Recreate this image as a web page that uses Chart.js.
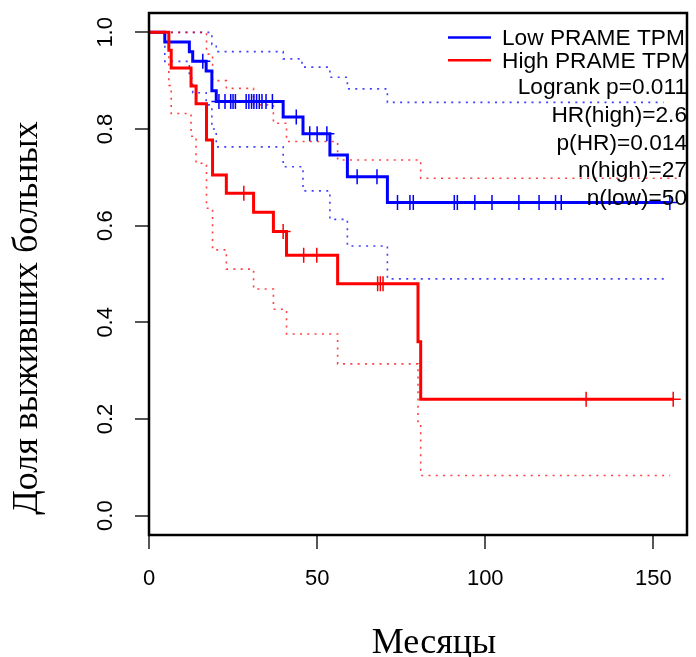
<!DOCTYPE html>
<html>
<head>
<meta charset="utf-8">
<script src="https://cdn.jsdelivr.net/npm/chart.js@4.4.0/dist/chart.umd.min.js"></script>
<style>
  html, body { margin:0; padding:0; background:#fff; }
  canvas { display:block; }
</style>
</head>
<body>
<canvas id="canvKM" width="696" height="657" style="width:696px;height:657px"></canvas>
<script>
// Kaplan-Meier steps (months, share surviving)
const lowTimes = [0, 4.7, 12, 13, 17, 18.7, 20, 39.9, 45.8, 53.8, 59, 70.9, 155];
const lowSurv  = [1, 0.98, 0.96, 0.94, 0.92, 0.879, 0.857, 0.825, 0.79, 0.746, 0.701, 0.648, 0.648];
const highTimes = [0, 5.9, 6.6, 12.5, 14, 17.1, 18.9, 23, 31.1, 37, 40.9, 56.1, 80, 80.8, 156];
const highSurv  = [1, 0.963, 0.926, 0.889, 0.852, 0.777, 0.705, 0.667, 0.628, 0.588, 0.539, 0.48, 0.36, 0.241, 0.241];

// confidence bands (dotted)
const lowUpTimes = [0, 18.7, 20, 39.9, 45.5, 53.8, 59, 70.9, 153];
const lowUpVals  = [1, 0.975, 0.96, 0.945, 0.928, 0.907, 0.883, 0.855, 0.855];
const lowLoTimes = [0, 4.7, 12, 13, 17, 18.7, 20, 39.9, 45.8, 53.8, 59, 70.9, 154];
const lowLoVals  = [1, 0.94, 0.905, 0.875, 0.85, 0.80, 0.763, 0.722, 0.672, 0.613, 0.558, 0.49, 0.49];
const highUpTimes = [0, 17.1, 18.9, 23, 31.1, 37, 40.9, 56.1, 80.8, 157];
const highUpVals  = [1, 0.955, 0.90, 0.884, 0.85, 0.812, 0.774, 0.736, 0.698, 0.698];
const highLoTimes = [0, 5.9, 6.6, 12.5, 14, 17.1, 18.9, 23, 31.1, 37, 40.9, 56.1, 80, 80.8, 155];
const highLoVals  = [1, 0.89, 0.832, 0.785, 0.729, 0.636, 0.55, 0.51, 0.469, 0.427, 0.376, 0.314, 0.19, 0.083, 0.083];

// censored patients (+ marks)
const lowCensor = [16, 20.8, 22.6, 24.3, 25, 25.7, 28.9, 29.7, 30.5, 31.2, 32.0, 32.8, 33.6, 34.8, 36.7,
                   43.8, 47.8, 50.0, 52.9, 61.9, 67.8, 73.9, 77.6, 78.6, 90.8, 91.7, 96.9, 102.0,
                   110.0, 116.0, 120.9, 122.6, 154.9];
const highCensor = [28.2, 39.9, 46.0, 49.9, 68.0, 68.8, 69.6, 130, 155.9];

const xTicks = [0, 50, 100, 150];
const yTicks = [0, 0.2, 0.4, 0.6, 0.8, 1.0];
const yTickLabels = ['0.0', '0.2', '0.4', '0.6', '0.8', '1.0'];
const legendLabels = ['Low PRAME TPM', 'High PRAME TPM'];
const statLines = ['Logrank p=0.011', 'HR(high)=2.6', 'p(HR)=0.014', 'n(high)=27', 'n(low)=50'];
const xTitle = 'Месяцы';
const yTitle = 'Доля выживших больных';

const BLUE = '#0000ff';
const RED = '#ff0000';

function toPts(times, vals) {
    return times.map((t, i) => ({x: t, y: vals[i]}));
}

// survival value of a step curve at time t
function stepAt(times, vals, t) {
    let v = vals[0];
    for (let i = 0; i < times.length; i++) {
        if (times[i] <= t) v = vals[i];
    }
    return v;
}

function censorPts(list, times, vals) {
    return list.map(t => ({x: t, y: stepAt(times, vals, t)}));
}

const solid = (data, color) => ({
    data: data, borderColor: color, borderWidth: 3, stepped: true,
    pointRadius: 0, fill: false
});
const dotted = (data, color) => ({
    data: data, borderColor: color, borderWidth: 1.6, stepped: true,
    borderDash: [2, 5.3], pointRadius: 0, fill: false
});
const marks = (data, color) => ({
    data: data, showLine: false, borderColor: color, pointStyle: 'cross',
    pointRadius: 7.5, pointBorderWidth: 1.5
});

// box, rotated y labels, titles and legend the way R draws them
const rDecor = {
    id: 'rDecor',
    afterDraw(chart) {
        const ctx = chart.ctx;
        const a = chart.chartArea;
        const xs = chart.scales.x, ys = chart.scales.y;
        ctx.save();
        ctx.strokeStyle = '#000';
        ctx.lineWidth = 2.5;
        ctx.strokeRect(a.left, a.top, a.right - a.left, a.bottom - a.top);

        ctx.fillStyle = '#000';
        ctx.font = '22px "Liberation Sans", Arial, sans-serif';
        ctx.textAlign = 'center';
        ctx.textBaseline = 'alphabetic';
        xTicks.forEach(v => ctx.fillText(String(v), xs.getPixelForValue(v), 585));
        yTicks.forEach((v, i) => {
            ctx.save();
            ctx.translate(112, ys.getPixelForValue(v));
            ctx.rotate(-Math.PI / 2);
            ctx.fillText(yTickLabels[i], 0, 0);
            ctx.restore();
        });

        ctx.font = '36px "Liberation Serif", "Times New Roman", serif';
        ctx.fillText(xTitle, 434, 653);
        ctx.save();
        ctx.translate(37, 318);
        ctx.rotate(-Math.PI / 2);
        ctx.fillText(yTitle, 0, 0);
        ctx.restore();

        // legend
        ctx.font = '22.7px "Liberation Sans", Arial, sans-serif';
        ctx.textAlign = 'left';
        const legY = [45, 67.7];
        const legCol = [BLUE, RED];
        legendLabels.forEach((lab, i) => {
            ctx.strokeStyle = legCol[i];
            ctx.lineWidth = 2.5;
            ctx.beginPath();
            ctx.moveTo(448, legY[i] - 7.5);
            ctx.lineTo(491, legY[i] - 7.5);
            ctx.stroke();
            ctx.fillText(lab, 502, legY[i]);
        });
        ctx.textAlign = 'right';
        const statY = [94.3, 121.7, 150, 176.7, 205];
        statLines.forEach((s, i) => ctx.fillText(s, 687, statY[i]));
        ctx.restore();
    }
};

const kmChart = new Chart(document.getElementById('canvKM'), {
    type: 'line',
    data: {
        datasets: [
            marks(censorPts(highCensor, highTimes, highSurv), RED),
            solid(toPts(highTimes, highSurv), RED),
            marks(censorPts(lowCensor, lowTimes, lowSurv), BLUE),
            solid(toPts(lowTimes, lowSurv), BLUE),
            dotted(toPts(highUpTimes, highUpVals), 'rgba(255,0,0,0.75)'),
            dotted(toPts(highLoTimes, highLoVals), 'rgba(255,0,0,0.75)'),
            dotted(toPts(lowUpTimes, lowUpVals), 'rgba(0,0,255,0.75)'),
            dotted(toPts(lowLoTimes, lowLoVals), 'rgba(0,0,255,0.75)')
        ]
    },
    options: {
        responsive: false,
        animation: false,
        devicePixelRatio: 1,
        layout: {padding: {top: 13, right: 2, left: 0, bottom: 0}},
        plugins: {legend: {display: false}, tooltip: {enabled: false}},
        scales: {
            x: {
                type: 'linear', min: 0, max: 160,
                afterFit: s => { s.height = 122; },
                afterBuildTicks: s => { s.ticks = xTicks.map(v => ({value: v})); },
                ticks: {display: false},
                border: {display: false},
                grid: {drawOnChartArea: false, drawTicks: true, tickLength: 14, color: '#555', tickColor: '#555', lineWidth: 2}
            },
            y: {
                type: 'linear', min: -0.04, max: 1.04,
                afterFit: s => { s.width = 149; },
                afterBuildTicks: s => { s.ticks = yTicks.map(v => ({value: v})); },
                ticks: {display: false},
                border: {display: false},
                grid: {drawOnChartArea: false, drawTicks: true, tickLength: 14, color: '#555', tickColor: '#555', lineWidth: 2}
            }
        }
    },
    plugins: [rDecor]
});
</script>
</body>
</html>
